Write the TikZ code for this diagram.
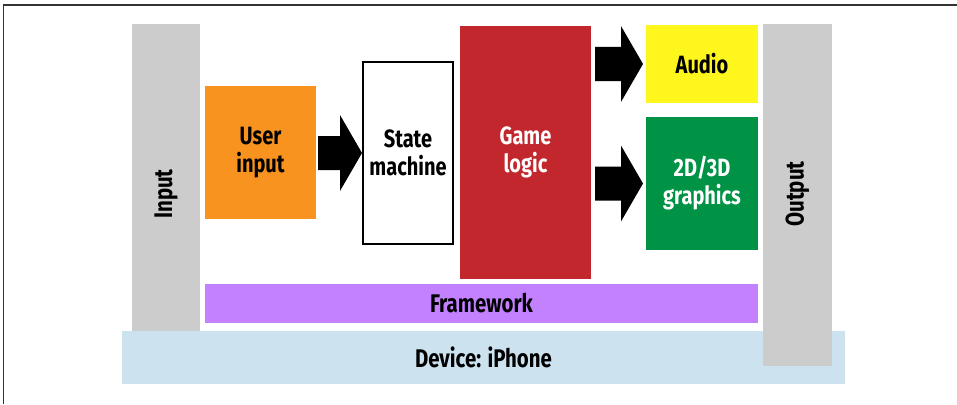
\documentclass[tikz,border=0pt]{standalone}
\usepackage{fontspec}
\newfontfamily\lblfont{Fira Sans}[FakeStretch=0.8]
\usetikzlibrary{calc}
\definecolor{barGray}{HTML}{CCCCCC}
\definecolor{devBlue}{HTML}{CCE2EF}
\definecolor{userOrange}{HTML}{F7931E}
\definecolor{gameRed}{HTML}{C1272D}
\definecolor{audioYellow}{HTML}{FFF61E}
\definecolor{gfxGreen}{HTML}{009245}
\definecolor{fwPurple}{HTML}{C381FF}
\definecolor{frameGray}{HTML}{333333}
\newcommand\blkarrow[4]{%
  \fill[black] let \p1=(#1.east), \p2=(#2.west) in
    ({\x1+#3},{\y2+17pt}) -- ({\x2-#4-22pt},{\y2+17pt}) -- ({\x2-#4-22pt},{\y2+38pt})
    -- ({\x2-#4},{\y2}) -- ({\x2-#4-22pt},{\y2-38pt}) -- ({\x2-#4-22pt},{\y2-17pt})
    -- ({\x1+#3},{\y2-17pt}) -- cycle;}
\begin{document}
\begin{tikzpicture}[x=1pt,y=-1pt,
  blk/.style={anchor=north west,inner sep=0pt,outer sep=0pt,align=center,
    font=\lblfont\bfseries\fontsize{25}{28}\selectfont},
  wide/.style={blk,font=\lblfont\bfseries\fontsize{25.5}{28}\selectfont},
  side/.style={inner sep=0pt,rotate=90,font=\lblfont\bfseries\fontsize{25.5}{28}\selectfont}]
\useasboundingbox (0,0) rectangle (957,404);
\draw[frameGray,line width=1.3pt] (3.5,404) coordinate (fbl) -- (3.5,5) coordinate (ftl) -- (957,5) coordinate (ftr);
\node[wide,fill=devBlue,minimum width=723pt,minimum height=53pt] (device) at (122,331) {Device: iPhone};
\node[blk,fill=barGray,minimum width=68pt,minimum height=307pt] (input) at (132,24) {};
\node[blk,fill=barGray,minimum width=69pt,minimum height=342pt] (output) at (763,24) {};
\node[side] (inlbl) at (166,194) {Input};
\node[side] (outlbl) at (797.5,194) {Output};
\node[blk,fill=userOrange,minimum width=111pt,minimum height=133pt] (user) at (205,86) {User\\input};
\node[blk,draw=black,line width=1.5pt,fill=white,minimum width=90pt,minimum height=182pt] (state) at (363,62) {State\\machine};
\node[blk,fill=gameRed,text=white,minimum width=131pt,minimum height=253pt] (game) at (460,26) {Game\\logic};
\node[blk,fill=audioYellow,minimum width=112pt,minimum height=78pt] (audio) at (646,25) {Audio};
\node[blk,fill=gfxGreen,text=white,minimum width=112pt,minimum height=133pt] (gfx) at (646,117) {2D/3D\\graphics};
\node[wide,fill=fwPurple,minimum width=553pt,minimum height=39pt] (fw) at (205,284) {Framework};
\blkarrow{user}{state}{2pt}{1pt}
\blkarrow{game}{audio}{4pt}{3pt}
\blkarrow{game}{gfx}{4pt}{3pt}
\end{tikzpicture}
\end{document}
